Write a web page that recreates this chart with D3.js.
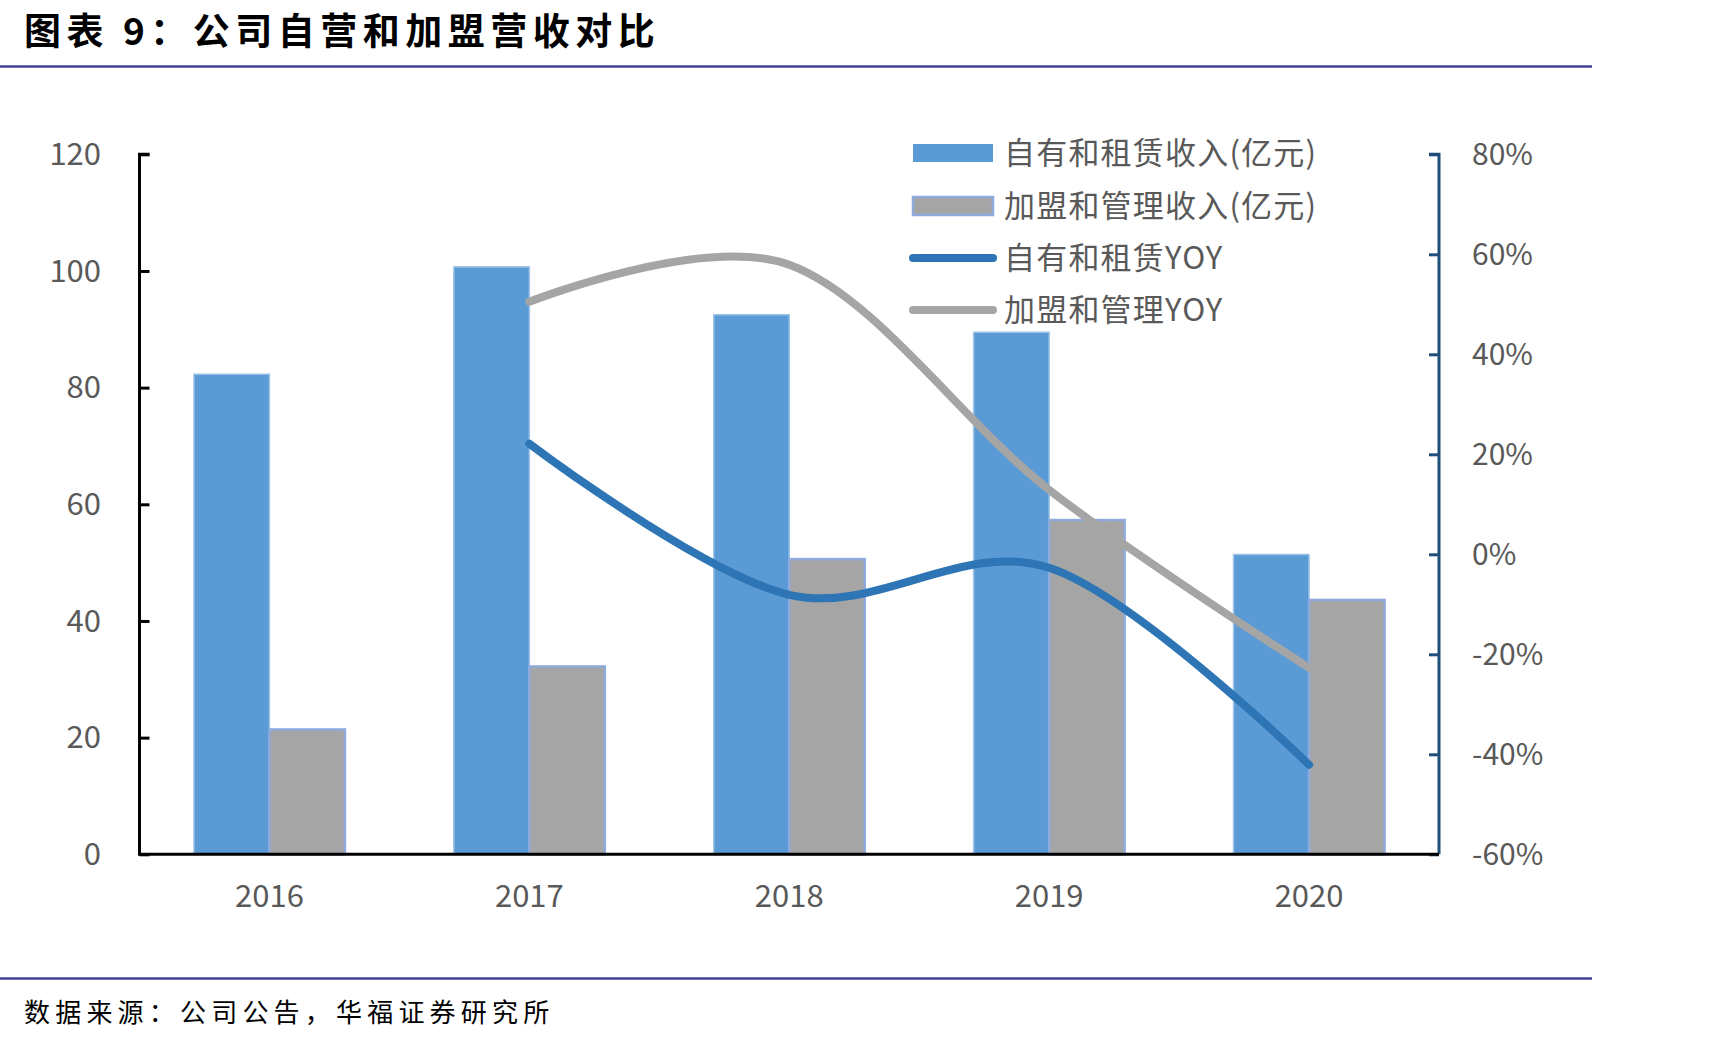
<!DOCTYPE html>
<html>
<head>
<meta charset="utf-8">
<script src="https://cdn.jsdelivr.net/npm/d3@7"></script>
<style>
  html, body { margin: 0; padding: 0; background: #ffffff; }
  svg { display: block; }
</style>
</head>
<body>
<svg id="chart" width="1725" height="1045"></svg>
<script>
// ---- data ----
const categories = ["2016", "2017", "2018", "2019", "2020"];
const seriesNames = ["自有和租赁收入(亿元)", "加盟和管理收入(亿元)", "自有和租赁YOY", "加盟和管理YOY"];
const ownedRevenue = [82.3, 100.7, 92.5, 89.5, 51.4];
const franchiseRevenue = [21.4, 32.2, 50.6, 57.3, 43.6];
const ownedYoY = [null, 22.1, -8.1, -2.7, -42.1];
const franchiseYoY = [null, 50.5, 57.9, 12.9, -22.7];
const leftTicks = [0, 20, 40, 60, 80, 100, 120];
const rightTicks = [-60, -40, -20, 0, 20, 40, 60, 80];
const titleText = "图表 9：公司自营和加盟营收对比";
const sourceText = "数据来源：公司公告，华福证券研究所";

// ---- layout ----
const svg = d3.select("#chart");
const plot = { left: 139.5, right: 1439, top: 154.3, bottom: 854.3 };
const barW = 75.5;
const font = "'Noto Sans CJK SC', 'Noto Sans', sans-serif";
const textColor = "#595959";

const x = d3.scaleBand().domain(categories).range([plot.left, plot.right]).padding(0);
const xSeries = d3.scaleBand().domain(["owned", "franchise"]).range([-barW, barW]).padding(0);
const yL = d3.scaleLinear().domain([0, 120]).range([plot.bottom, plot.top]);
const yR = d3.scaleLinear().domain([-60, 80]).range([plot.bottom, plot.top]);
const cx = c => x(c) + x.bandwidth() / 2;

// ---- title & header/footer rules ----
svg.append("text")
  .attr("x", 24).attr("y", 45)
  .attr("font-family", font).attr("font-size", 37).attr("font-weight", 700)
  .attr("letter-spacing", 5.5).attr("fill", "#000")
  .text(titleText);
svg.append("line").attr("x1", 0).attr("x2", 1592).attr("y1", 66.5).attr("y2", 66.5)
  .attr("stroke", "#3f3f9c").attr("stroke-width", 2.5);
svg.append("line").attr("x1", 0).attr("x2", 1592).attr("y1", 978.5).attr("y2", 978.5)
  .attr("stroke", "#3f3f9c").attr("stroke-width", 2.5);
svg.append("text")
  .attr("x", 24).attr("y", 1022)
  .attr("font-family", font).attr("font-size", 26).attr("font-weight", 400)
  .attr("letter-spacing", 5.2).attr("fill", "#000")
  .text(sourceText);

// ---- bars ----
const barData = [];
categories.forEach((c, i) => {
  barData.push({ c, key: "owned", v: ownedRevenue[i] });
  barData.push({ c, key: "franchise", v: franchiseRevenue[i] });
});
svg.append("g").selectAll("rect").data(barData).join("rect")
  .attr("x", d => cx(d.c) + xSeries(d.key))
  .attr("width", xSeries.bandwidth())
  .attr("y", d => yL(d.v))
  .attr("height", d => yL(0) - yL(d.v))
  .attr("fill", d => d.key === "owned" ? "#5b9bd5" : "#a5a5a5")
  .attr("stroke", d => d.key === "owned" ? "#9dc3e6" : "#8faadc")
  .attr("stroke-width", d => d.key === "owned" ? 1.5 : 2.5);

// ---- axes ----
const leftAxis = d3.axisRight(yL).tickValues(leftTicks).tickSize(10).tickFormat("");
const gL = svg.append("g").attr("transform", `translate(${plot.left},0)`).call(leftAxis);
gL.selectAll("path,line").attr("stroke", "#000").attr("stroke-width", 3);
gL.select(".domain").attr("d", `M10,${plot.top}H0V${plot.bottom}`);

const rightAxis = d3.axisLeft(yR).tickValues(rightTicks).tickSize(10).tickFormat("");
const gR = svg.append("g").attr("transform", `translate(${plot.right},0)`).call(rightAxis);
gR.selectAll("path,line").attr("stroke", "#1f4e79").attr("stroke-width", 3);
gR.select(".domain").attr("d", `M-10,${plot.top}H0V${plot.bottom}`);

// x baseline
svg.append("line").attr("x1", plot.left - 1.5).attr("x2", plot.right)
  .attr("y1", yL(0)).attr("y2", yL(0)).attr("stroke", "#000").attr("stroke-width", 3);

// tick labels
svg.append("g").selectAll("text").data(leftTicks).join("text")
  .attr("x", 101).attr("y", d => yL(d)).attr("dy", "0.35em")
  .attr("text-anchor", "end").attr("font-family", font).attr("font-size", 31)
  .attr("fill", textColor).text(d => d);
svg.append("g").selectAll("text").data(rightTicks).join("text")
  .attr("x", 1472).attr("y", d => yR(d)).attr("dy", "0.35em")
  .attr("text-anchor", "start").attr("font-family", font).attr("font-size", 30)
  .attr("fill", textColor).text(d => d + "%");
svg.append("g").selectAll("text").data(categories).join("text")
  .attr("x", d => cx(d)).attr("y", 907)
  .attr("text-anchor", "middle").attr("font-family", font).attr("font-size", 31)
  .attr("fill", textColor).text(d => d);

// ---- lines ----
const lineGen = d3.line()
  .defined(d => d.v !== null)
  .x(d => cx(d.c)).y(d => yR(d.v))
  .curve(d3.curveCardinal.tension(0));
const mk = arr => categories.map((c, i) => ({ c, v: arr[i] }));
svg.append("path").datum(mk(franchiseYoY)).attr("d", lineGen)
  .attr("fill", "none").attr("stroke", "#a5a5a5").attr("stroke-width", 8)
  .attr("stroke-linecap", "round").attr("stroke-linejoin", "round");
svg.append("path").datum(mk(ownedYoY)).attr("d", lineGen)
  .attr("fill", "none").attr("stroke", "#2e75b6").attr("stroke-width", 8)
  .attr("stroke-linecap", "round").attr("stroke-linejoin", "round");

// ---- legend ----
const legendRows = [153, 206, 258, 310];
const lg = svg.append("g");
lg.append("rect").attr("x", 913).attr("y", legendRows[0] - 9).attr("width", 80).attr("height", 18)
  .attr("fill", "#5b9bd5");
lg.append("rect").attr("x", 913).attr("y", legendRows[1] - 9).attr("width", 80).attr("height", 18)
  .attr("fill", "#a5a5a5").attr("stroke", "#8faadc").attr("stroke-width", 2.5);
lg.append("line").attr("x1", 913).attr("x2", 993).attr("y1", legendRows[2]).attr("y2", legendRows[2])
  .attr("stroke", "#2e75b6").attr("stroke-width", 8).attr("stroke-linecap", "round");
lg.append("line").attr("x1", 913).attr("x2", 993).attr("y1", legendRows[3]).attr("y2", legendRows[3])
  .attr("stroke", "#a5a5a5").attr("stroke-width", 8).attr("stroke-linecap", "round");
lg.selectAll("text").data(seriesNames).join("text")
  .attr("x", 1004).attr("y", (d, i) => legendRows[i]).attr("dy", "0.35em")
  .attr("font-family", font).attr("font-size", 31).attr("letter-spacing", 1.2).attr("fill", textColor)
  .text(d => d);
</script>
</body>
</html>
